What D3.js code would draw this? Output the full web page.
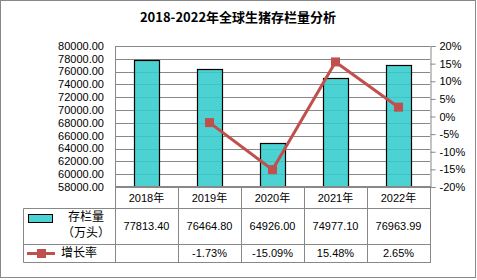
<!DOCTYPE html>
<html lang="zh">
<head>
<meta charset="UTF-8">
<script src="https://d3js.org/d3.v7.min.js"></script>
<style>
  body { margin: 0; background: #fff; }
  svg { display: block; }
  text { font-family: "Liberation Sans", Arial, "Noto Sans CJK SC", sans-serif; fill: #000; }
</style>
</head>
<body>
<svg id="chart" width="477" height="280"></svg>
<script>
  const years = ["2018年", "2019年", "2020年", "2021年", "2022年"];
  const stock = [77813.40, 76464.80, 64926.00, 74977.10, 76963.99];
  const growth = [null, -1.73, -15.09, 15.48, 2.65];
  const leftTicks = d3.range(58000, 80001, 2000);
  const rightTicks = d3.range(-20, 21, 5);

  const svg = d3.select("#chart");
  const plot = { left: 115, right: 430, top: 46, bottom: 187 };
  const gridColor = "#888";

  // chart border
  svg.append("rect").attr("x", 0.5).attr("y", 0.5).attr("width", 475).attr("height", 277)
    .attr("fill", "#fff").attr("stroke", "#888");

  svg.append("text").attr("x", 238).attr("y", 22).attr("text-anchor", "middle")
    .style("font-size", "13px").style("font-weight", "bold")
    .style("font-family", "'Noto Sans CJK SC', sans-serif")
    .text("2018-2022年全球生猪存栏量分析");

  const x = d3.scaleBand().domain(years).range([plot.left, plot.right]);
  const y = d3.scaleLinear().domain([58000, 80000]).range([plot.bottom, plot.top]);
  const y2 = d3.scaleLinear().domain([-20, 20]).range([plot.bottom, plot.top]);

  // gridlines
  svg.append("g").selectAll("line").data(leftTicks).join("line")
    .attr("x1", plot.left).attr("x2", plot.right)
    .attr("y1", d => Math.round(y(d)) + 0.5).attr("y2", d => Math.round(y(d)) + 0.5)
    .attr("stroke", gridColor);

  // left axis labels
  svg.append("g").selectAll("text").data(leftTicks).join("text")
    .attr("x", 104).attr("y", d => y(d)).attr("dy", "0.35em")
    .attr("text-anchor", "end").style("font-size", "11px")
    .text(d => d.toFixed(2));

  // right axis
  const rAxis = svg.append("g").attr("transform", `translate(${plot.right + 0.5},0)`)
    .call(d3.axisRight(y2).tickValues(rightTicks).tickSize(5).tickPadding(4)
      .tickFormat(d => String(d) + "%"));
  rAxis.select(".domain").attr("stroke", gridColor);
  rAxis.selectAll(".tick line").attr("stroke", gridColor);
  rAxis.selectAll("text").style("font-size", "11px")
    .style("font-family", "'Liberation Sans', Arial, sans-serif").attr("fill", "#000");

  // bars
  const bw = 25;
  svg.append("g").selectAll("rect").data(stock).join("rect")
    .attr("x", (d, i) => Math.round(x(years[i]) + x.bandwidth() / 2 - bw / 2) + 0.5)
    .attr("y", d => Math.round(y(d)) + 0.5)
    .attr("width", bw)
    .attr("height", d => plot.bottom - Math.round(y(d)) - 0.5)
    .attr("fill", "#33cccc").attr("fill-opacity", 0.88)
    .attr("stroke", "#000").attr("stroke-width", 1.2);

  // line
  const cx = i => x(years[i]) + x.bandwidth() / 2;
  const pts = growth.map((g, i) => ({ g, i })).filter(p => p.g !== null);
  svg.append("path").datum(pts)
    .attr("d", d3.line().x(p => cx(p.i)).y(p => y2(p.g)))
    .attr("fill", "none").attr("stroke", "#c0504d").attr("stroke-width", 3);
  svg.append("g").selectAll("rect").data(pts).join("rect")
    .attr("x", p => cx(p.i) - 4.5).attr("y", p => y2(p.g) - 4.5)
    .attr("width", 9).attr("height", 9).attr("fill", "#c0504d");

  // left axis line + bottom axis
  svg.append("line").attr("x1", plot.left + 0.5).attr("x2", plot.left + 0.5)
    .attr("y1", plot.top).attr("y2", 263).attr("stroke", gridColor);
  svg.append("line").attr("x1", plot.left).attr("x2", plot.right + 1)
    .attr("y1", plot.bottom).attr("y2", plot.bottom)
    .attr("stroke", gridColor).attr("stroke-width", 2);

  // data table
  const rows = { r1: 208.5, r2: 244.5, r3: 262.5 };
  const tbl = svg.append("g").attr("stroke", gridColor);
  years.forEach((yr, i) => {
    const xr = Math.round(x(yr) + x.bandwidth()) + 0.5;
    tbl.append("line").attr("x1", xr).attr("x2", xr).attr("y1", plot.bottom).attr("y2", rows.r3);
  });
  [rows.r1, rows.r2, rows.r3].forEach(ry => {
    tbl.append("line").attr("x1", 23.5).attr("x2", plot.right + 1).attr("y1", ry).attr("y2", ry);
  });
  tbl.append("line").attr("x1", 23.5).attr("x2", 23.5).attr("y1", rows.r1).attr("y2", rows.r3);

  const cell = svg.append("g").style("font-size", "11px").attr("text-anchor", "middle");
  years.forEach((yr, i) => {
    const c = x(yr) + x.bandwidth() / 2;
    cell.append("text").attr("x", c).attr("y", 198).attr("dy", "0.35em").text(yr)
      .style("font-family", "'Liberation Sans', 'Noto Sans CJK SC', sans-serif");
    cell.append("text").attr("x", c).attr("y", 226.5).attr("dy", "0.35em")
      .text(stock[i].toFixed(2));
    if (growth[i] !== null)
      cell.append("text").attr("x", c).attr("y", 253.5).attr("dy", "0.35em")
        .text(growth[i].toFixed(2) + "%");
  });

  // legend keys
  svg.append("rect").attr("x", 28.5).attr("y", 214.5).attr("width", 24).attr("height", 8)
    .attr("fill", "#33cccc").attr("fill-opacity", 0.88).attr("stroke", "#000");
  svg.append("line").attr("x1", 27).attr("x2", 55).attr("y1", 253.5).attr("y2", 253.5)
    .attr("stroke", "#c0504d").attr("stroke-width", 3);
  svg.append("rect").attr("x", 37).attr("y", 249).attr("width", 9).attr("height", 9)
    .attr("fill", "#c0504d");
  const leg = svg.append("g").style("font-size", "12px").attr("text-anchor", "middle")
    .style("font-family", "'Noto Sans CJK SC', sans-serif");
  leg.append("text").attr("x", 86).attr("y", 217).attr("dy", "0.35em").text("存栏量");
  leg.append("text").attr("x", 86).attr("y", 233).attr("dy", "0.35em").text("（万头）");
  leg.append("text").attr("x", 79).attr("y", 253).attr("dy", "0.35em").text("增长率");
</script>
</body>
</html>
